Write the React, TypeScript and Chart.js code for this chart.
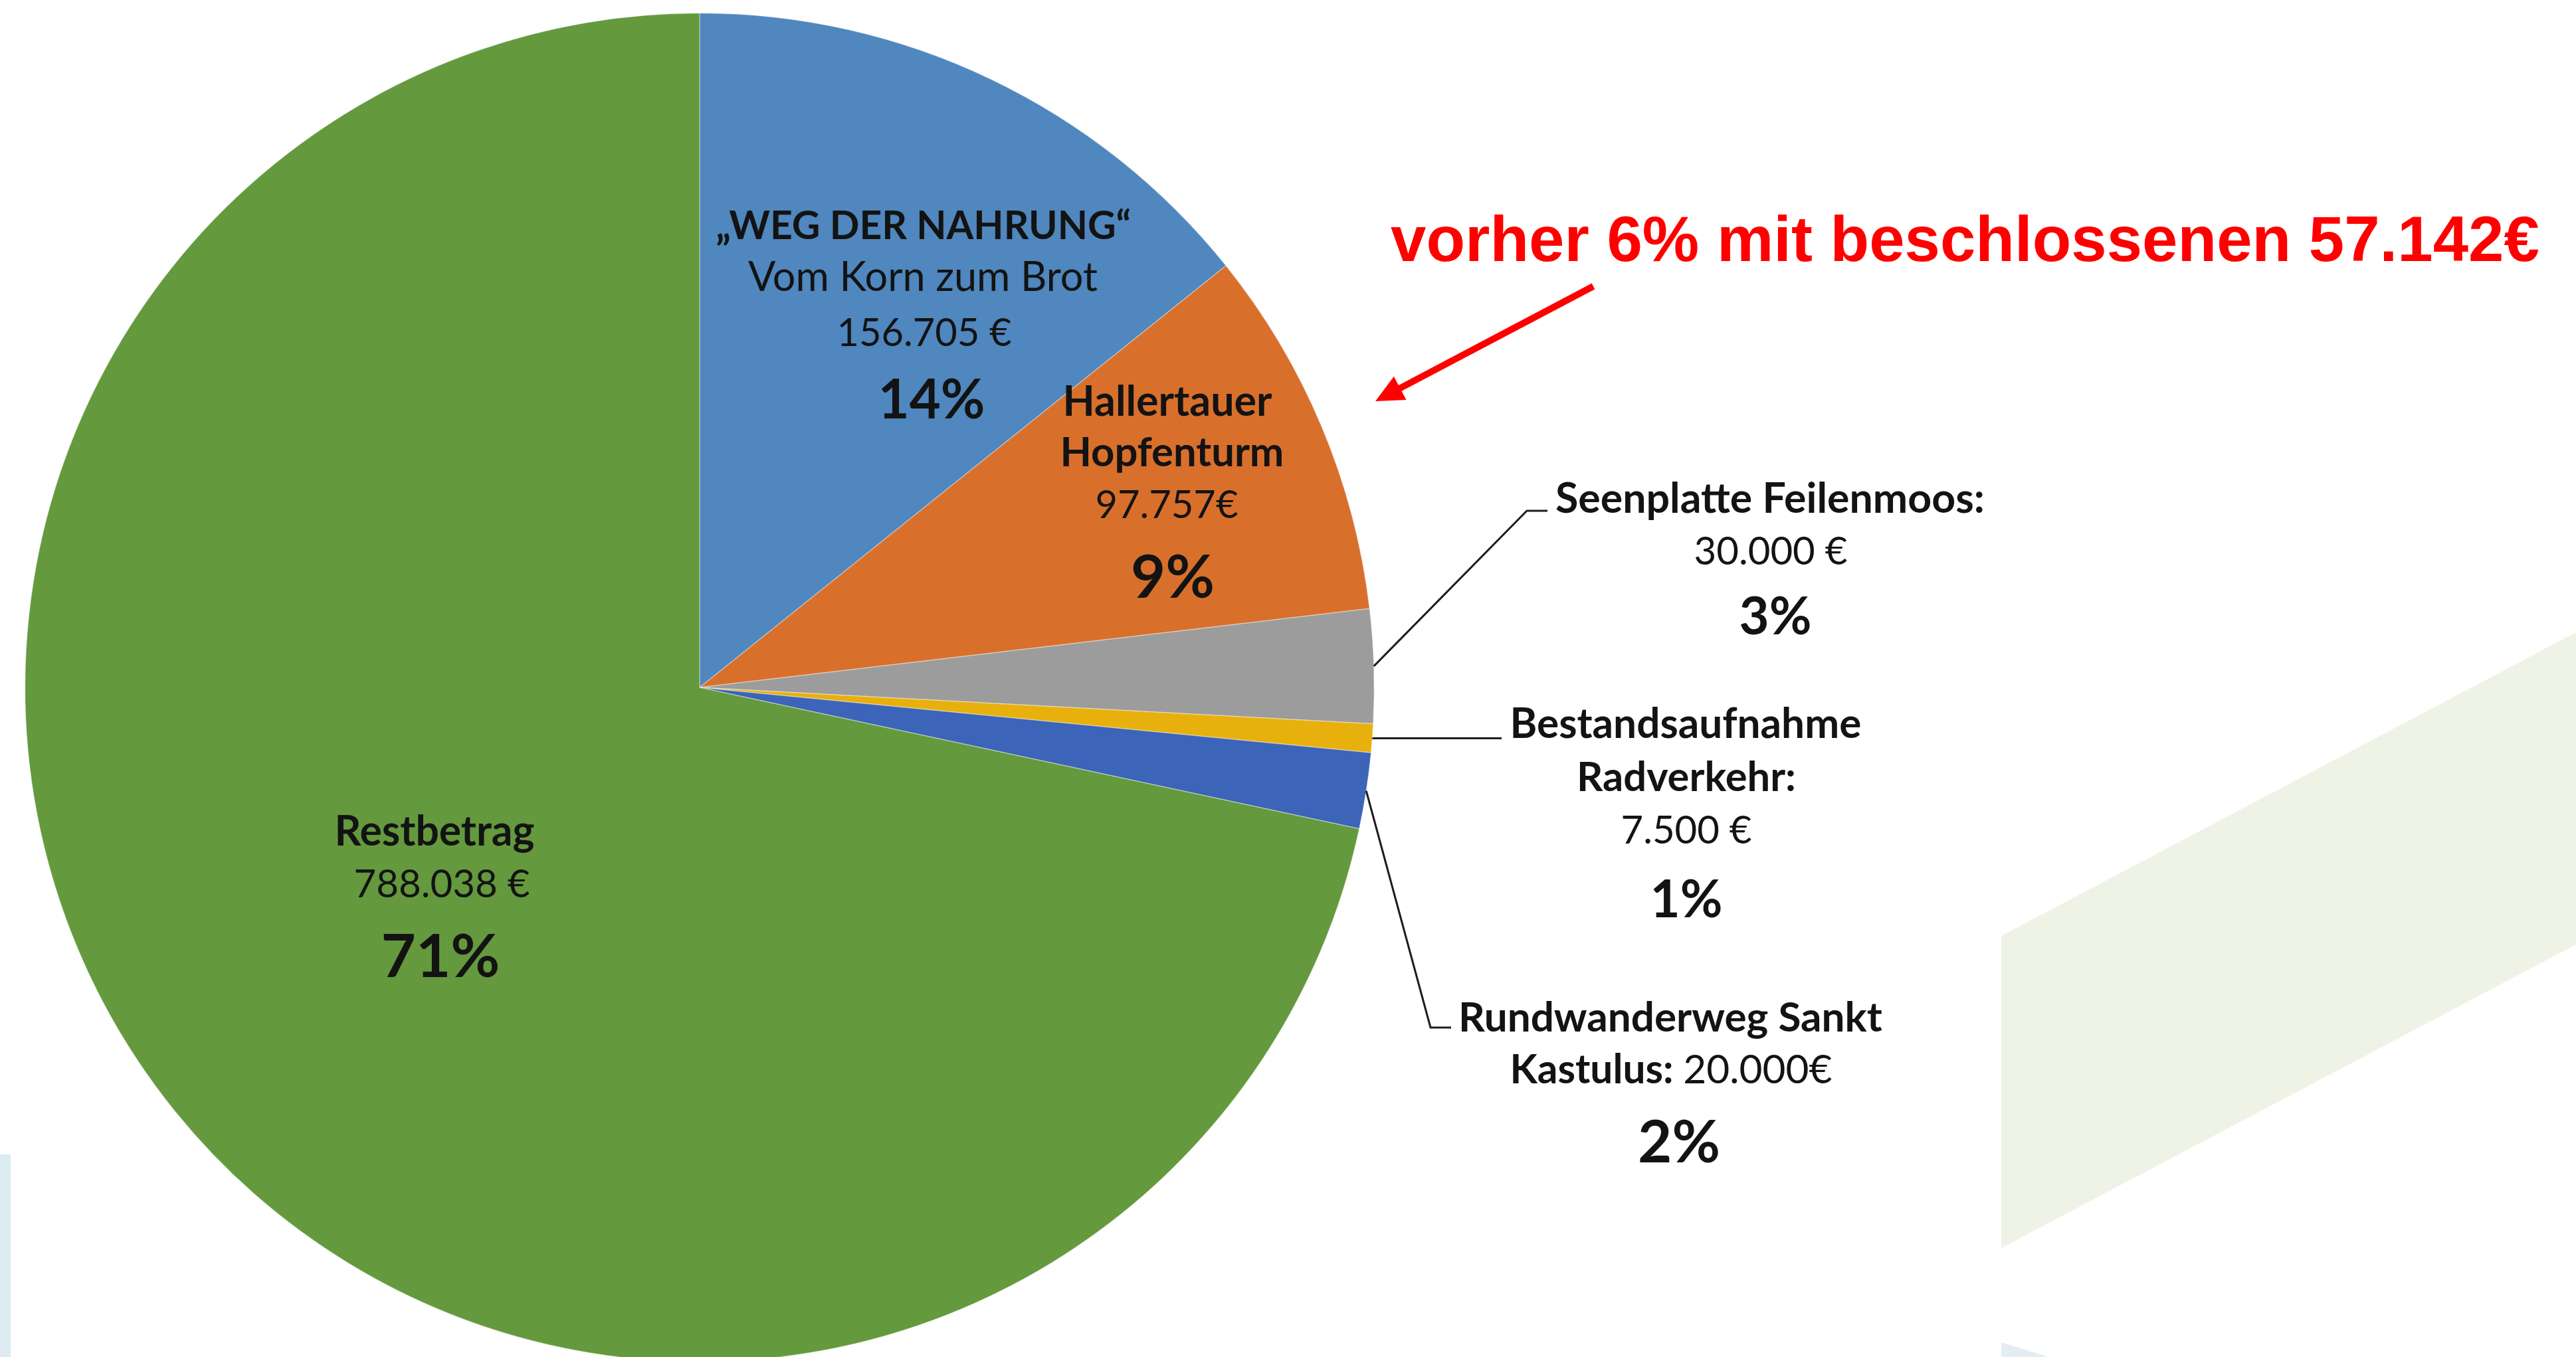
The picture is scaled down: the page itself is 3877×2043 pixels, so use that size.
import React, { useEffect, useRef } from 'react';
import { Chart, registerables } from 'chart.js';

Chart.register(...registerables);

// ---------- data ----------
const categories = [
  '„WEG DER NAHRUNG“ Vom Korn zum Brot',
  'Hallertauer Hopfenturm',
  'Seenplatte Feilenmoos',
  'Bestandsaufnahme Radverkehr',
  'Rundwanderweg Sankt Kastulus',
  'Restbetrag',
];
const values = [156705, 97757, 30000, 7500, 20000, 788038];
const amountLabels = ['156.705 €', '97.757€', '30.000 €', '7.500 €', '20.000€', '788.038 €'];
const percentLabels = ['14%', '9%', '3%', '1%', '2%', '71%'];
const noteText = 'vorher 6% mit beschlossenen 57.142€';

// ---------- styles / layout ----------
const sliceColors = ['#4f87be', '#d8702c', '#9c9c9c', '#e8b00c', '#3c64b8', '#64993d'];
const W = 3877;
const H = 2043;
const CH = 2070;
const PIE = { left: 37, top: 19, size: 2032 };
const FONT = 'Lato, "Open Sans", sans-serif';
const TEXT_COLOR = '#131313';

type Part = { text: string; bold: boolean };
type Line = { parts: Part[]; cx: number; base: number; w: number };
const B = (text: string): Part => ({ text, bold: true });
const R = (text: string): Part => ({ text, bold: false });

const labelLines: Line[] = [
  { parts: [B('„WEG DER NAHRUNG“')], cx: 1390, base: 360, w: 625 },
  { parts: [R('Vom Korn zum Brot')], cx: 1389, base: 438, w: 526 },
  { parts: [R(amountLabels[0])], cx: 1391, base: 521, w: 263 },
  { parts: [B(percentLabels[0])], cx: 1402, base: 630, w: 161 },
  { parts: [B('Hallertauer')], cx: 1757, base: 626, w: 315 },
  { parts: [B('Hopfenturm')], cx: 1764, base: 702, w: 337 },
  { parts: [R(amountLabels[1])], cx: 1756, base: 780, w: 215 },
  { parts: [B(percentLabels[1])], cx: 1765, base: 900, w: 126 },
  { parts: [B('Seenplatte Feilenmoos:')], cx: 2664, base: 772, w: 646 },
  { parts: [R(amountLabels[2])], cx: 2665, base: 850, w: 231 },
  { parts: [B(percentLabels[2])], cx: 2672, base: 955, w: 109 },
  { parts: [B('Bestandsaufnahme')], cx: 2537, base: 1111, w: 529 },
  { parts: [B('Radverkehr:')], cx: 2538, base: 1191, w: 330 },
  { parts: [R(amountLabels[3])], cx: 2538, base: 1270, w: 197 },
  { parts: [B(percentLabels[3])], cx: 2538, base: 1381, w: 109 },
  { parts: [B('Rundwanderweg Sankt')], cx: 2514, base: 1553, w: 638 },
  { parts: [B('Kastulus: '), R(amountLabels[4])], cx: 2515, base: 1631, w: 485 },
  { parts: [B(percentLabels[4])], cx: 2527, base: 1750, w: 124 },
  { parts: [B('Restbetrag')], cx: 654, base: 1273, w: 301 },
  { parts: [R(amountLabels[5])], cx: 665, base: 1351, w: 265 },
  { parts: [B(percentLabels[5])], cx: 663, base: 1471, w: 179 },
];

// leader line bend points; null y means "keep the start height" (horizontal)
const leaders: { slice: number; pts: [number, number | null][] }[] = [
  { slice: 2, pts: [[2298, 769], [2329, 769]] },
  { slice: 3, pts: [[2260, null]] },
  { slice: 4, pts: [[2153, 1547], [2184, 1547]] },
];

const NOTE = { x: 2093, base: 393, size: 96 };
const ARROW = { from: [2398, 431], to: [2070, 604], width: 10, headLen: 42, headHalf: 20 };

const bgPlugin = {
  id: 'bg',
  beforeDraw(chart: any) {
    const ctx = chart.ctx as CanvasRenderingContext2D;
    ctx.save();
    ctx.fillStyle = '#ffffff';
    ctx.fillRect(0, 0, chart.width, chart.height);
    // light green band
    ctx.fillStyle = '#eef3e6';
    ctx.beginPath();
    ctx.moveTo(3012, 1409);
    ctx.lineTo(3877, 952);
    ctx.lineTo(3877, 1422);
    ctx.lineTo(3012, 1879);
    ctx.closePath();
    ctx.fill();
    // light blue accents
    ctx.fillStyle = '#e4eef2';
    ctx.beginPath();
    ctx.moveTo(3012, 2021);
    ctx.lineTo(3090, 2045);
    ctx.lineTo(3012, 2045);
    ctx.closePath();
    ctx.fill();
    ctx.fillStyle = '#dcecf2';
    ctx.fillRect(0, 1738, 16, 340);
    ctx.restore();
  },
};

const labelPlugin = {
  id: 'labels',
  afterDraw(chart: any) {
    const ctx = chart.ctx as CanvasRenderingContext2D;
    const meta = chart.getDatasetMeta(0);
    ctx.save();

    // leader lines from the slice edges
    ctx.strokeStyle = '#1e1e1e';
    ctx.lineWidth = 3;
    leaders.forEach((l) => {
      const arc = meta.data[l.slice] as any;
      const p = arc.getProps(['x', 'y', 'startAngle', 'endAngle', 'outerRadius'], true);
      const mid = (p.startAngle + p.endAngle) / 2;
      const sx = p.x + Math.cos(mid) * p.outerRadius;
      const sy = p.y + Math.sin(mid) * p.outerRadius;
      ctx.beginPath();
      ctx.moveTo(sx, sy);
      l.pts.forEach((pt) => ctx.lineTo(pt[0], pt[1] === null ? sy : pt[1]));
      ctx.stroke();
    });

    // text labels
    ctx.fillStyle = TEXT_COLOR;
    ctx.textBaseline = 'alphabetic';
    ctx.textAlign = 'left';
    labelLines.forEach((ln) => {
      let w100 = 0;
      ln.parts.forEach((pt) => {
        ctx.font = `${pt.bold ? 'bold' : 'normal'} 100px ${FONT}`;
        w100 += ctx.measureText(pt.text).width;
      });
      const size = (100 * ln.w) / w100;
      let x = ln.cx - ln.w / 2;
      ln.parts.forEach((pt) => {
        ctx.font = `${pt.bold ? 'bold' : 'normal'} ${size}px ${FONT}`;
        ctx.fillText(pt.text, x, ln.base);
        x += ctx.measureText(pt.text).width;
      });
    });

    // red note
    ctx.fillStyle = '#ff0000';
    ctx.font = `bold ${NOTE.size}px "Liberation Sans", Arial, sans-serif`;
    ctx.fillText(noteText, NOTE.x, NOTE.base);

    // red arrow
    const [fx, fy] = ARROW.from;
    const [tx, ty] = ARROW.to;
    const dx = tx - fx;
    const dy = ty - fy;
    const len = Math.hypot(dx, dy);
    const ux = dx / len;
    const uy = dy / len;
    const bx = tx - ux * ARROW.headLen;
    const by = ty - uy * ARROW.headLen;
    ctx.strokeStyle = '#ff0000';
    ctx.lineWidth = ARROW.width;
    ctx.lineCap = 'butt';
    ctx.beginPath();
    ctx.moveTo(fx, fy);
    ctx.lineTo(bx + ux * 2, by + uy * 2);
    ctx.stroke();
    ctx.beginPath();
    ctx.moveTo(tx, ty);
    ctx.lineTo(bx - uy * ARROW.headHalf, by + ux * ARROW.headHalf);
    ctx.lineTo(bx + uy * ARROW.headHalf, by - ux * ARROW.headHalf);
    ctx.closePath();
    ctx.fillStyle = '#ff0000';
    ctx.fill();

    ctx.restore();
  },
};

export default function App() {
  const ref = useRef<HTMLCanvasElement | null>(null);

  useEffect(() => {
    const canvas = ref.current;
    if (!canvas) return;
    const chart = new Chart(canvas, {
      type: 'pie',
      data: {
        labels: categories,
        datasets: [
          {
            data: values,
            backgroundColor: sliceColors,
            borderColor: 'rgba(255,255,255,0.35)',
            borderWidth: 1.5,
          },
        ],
      },
      options: {
        responsive: false,
        maintainAspectRatio: false,
        animation: false,
        devicePixelRatio: 1,
        layout: {
          padding: {
            left: PIE.left,
            top: PIE.top,
            right: W - PIE.left - PIE.size,
            bottom: CH - PIE.top - PIE.size,
          },
        },
        plugins: {
          legend: { display: false },
          tooltip: { enabled: false },
        },
      },
      plugins: [bgPlugin, labelPlugin],
    } as any);
    return () => chart.destroy();
  }, []);

  return (
    <div
      style={{
        position: 'fixed',
        left: 0,
        top: 0,
        width: W,
        height: H,
        overflow: 'hidden',
        background: '#ffffff',
      }}
    >
      <canvas ref={ref} width={W} height={CH} style={{ display: 'block', width: W, height: CH }} />
    </div>
  );
}
